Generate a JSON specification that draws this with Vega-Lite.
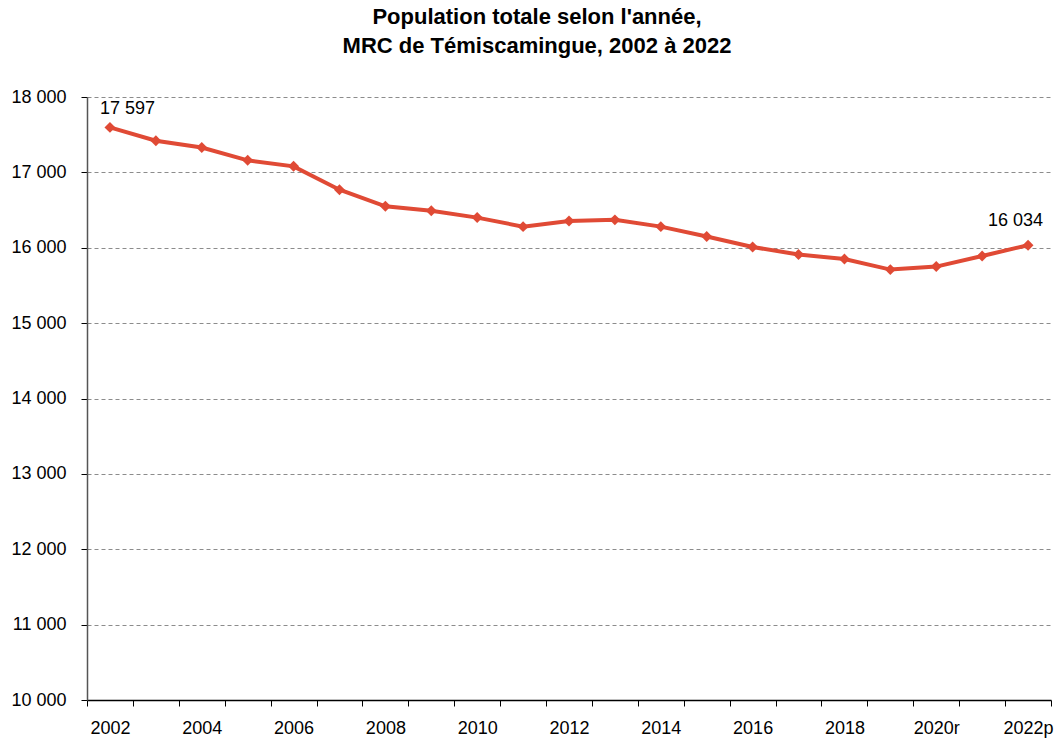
{
  "$schema": "https://vega.github.io/schema/vega-lite/v6.json",
  "width": 964,
  "height": 603,
  "autosize": {"type": "none"},
  "padding": {"left": 87, "top": 97, "right": 7, "bottom": 45},
  "background": "white",
  "config": {
    "view": {"stroke": null},
    "font": "Liberation Sans"
  },
  "title": {
    "text": ["Population totale selon l'année,", "MRC de Témiscamingue, 2002 à 2022"],
    "font": "Liberation Sans",
    "fontSize": 22,
    "fontWeight": "bold",
    "color": "#000000",
    "anchor": "middle",
    "dx": -32,
    "offset": 30,
    "lineHeight": 29
  },
  "data": {
    "values": [
      {"annee": "2002", "population": 17597, "label": "17 597"},
      {"annee": "2003", "population": 17420},
      {"annee": "2004", "population": 17330},
      {"annee": "2005", "population": 17160},
      {"annee": "2006", "population": 17080},
      {"annee": "2007", "population": 16770},
      {"annee": "2008", "population": 16550},
      {"annee": "2009", "population": 16490},
      {"annee": "2010", "population": 16400},
      {"annee": "2011", "population": 16280},
      {"annee": "2012", "population": 16355},
      {"annee": "2013", "population": 16370},
      {"annee": "2014", "population": 16280},
      {"annee": "2015", "population": 16150},
      {"annee": "2016", "population": 16010},
      {"annee": "2017", "population": 15910},
      {"annee": "2018", "population": 15850},
      {"annee": "2019", "population": 15710},
      {"annee": "2020r", "population": 15750},
      {"annee": "2021", "population": 15890},
      {"annee": "2022p", "population": 16034, "label": "16 034"}
    ]
  },
  "encoding": {
    "x": {
      "field": "annee",
      "type": "ordinal",
      "sort": null,
      "scale": {"type": "band", "paddingInner": 0, "paddingOuter": 0},
      "axis": {
        "title": null,
        "labelAngle": 0,
        "labelFont": "Liberation Sans",
        "labelFontSize": 18,
        "labelColor": "#000000",
        "labelPadding": 13,
        "labelExpr": "indexof(['2002','2004','2006','2008','2010','2012','2014','2016','2018','2020r','2022p'], datum.value) >= 0 ? datum.label : ''",
        "tickBand": "extent",
        "tickSize": 6,
        "tickColor": "#000000",
        "domainColor": "#000000",
        "domainWidth": 1.5,
        "grid": false
      }
    },
    "y": {
      "field": "population",
      "type": "quantitative",
      "scale": {"domain": [10000, 18000], "zero": false, "nice": false},
      "axis": {
        "title": null,
        "values": [10000, 11000, 12000, 13000, 14000, 15000, 16000, 17000, 18000],
        "labelExpr": "replace(format(datum.value, ','), ',', ' ')",
        "labelFont": "Liberation Sans",
        "labelFontSize": 18,
        "labelColor": "#000000",
        "labelPadding": 15,
        "tickSize": 6,
        "tickColor": "#000000",
        "domainColor": "#555555",
        "domainWidth": 1.5,
        "grid": true,
        "gridColor": "#8c8c8c",
        "gridDash": [4, 3],
        "gridWidth": 1
      }
    }
  },
  "layer": [
    {
      "mark": {"type": "line", "color": "#E04A35", "strokeWidth": 4, "point": {"shape": "diamond", "size": 120, "filled": true, "color": "#E04A35"}}
    },
    {
      "transform": [{"filter": "datum.annee == '2002'"}],
      "mark": {"type": "text", "font": "Liberation Sans", "fontSize": 18, "color": "#000000", "align": "left", "baseline": "alphabetic", "dx": -10, "dy": -13},
      "encoding": {"text": {"field": "label"}}
    },
    {
      "transform": [{"filter": "datum.annee == '2022p'"}],
      "mark": {"type": "text", "font": "Liberation Sans", "fontSize": 18, "color": "#000000", "align": "right", "baseline": "alphabetic", "dx": 15, "dy": -19},
      "encoding": {"text": {"field": "label"}}
    }
  ]
}
